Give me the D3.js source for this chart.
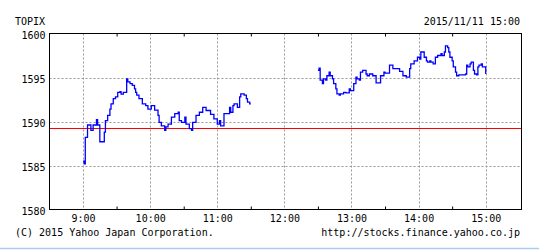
<!DOCTYPE html>
<html>
<head>
<meta charset="utf-8">
<script src="https://cdn.jsdelivr.net/npm/d3@7"></script>
<style>
  body { margin: 0; background: #fff; }
  svg text { font-family: "DejaVu Sans Mono", monospace; font-size: 10px; fill: #000; }
</style>
</head>
<body>
<svg id="chart" width="539" height="250"></svg>
<script>
// minutes after 9:00, step points
const amMinutes = [0, 1, 2, 4, 7, 9, 12, 13, 15, 19, 20, 22, 24, 25, 27, 29, 31, 33, 34, 36, 39, 40, 42, 44, 46, 47, 48, 50, 53, 56, 58, 61, 64, 67, 68, 70, 73, 74, 76, 79, 82, 85, 86, 88, 91, 92, 95, 97, 98, 101, 104, 107, 110, 114, 117, 120, 122, 123, 126, 131, 132, 134, 135, 138, 140, 141, 144, 146, 147, 149, 150]
const amValues = [1585.5, 1585.2, 1588.2, 1589.6, 1589.0, 1589.6, 1590.2, 1589.6, 1587.7, 1588.8, 1590.1, 1590.7, 1591.4, 1592.0, 1592.6, 1592.8, 1593.3, 1593.4, 1593.1, 1593.3, 1594.85, 1594.5, 1594.3, 1594.1, 1593.7, 1593.3, 1593.0, 1592.6, 1592.0, 1591.8, 1591.4, 1591.8, 1591.3, 1590.7, 1589.9, 1589.5, 1589.0, 1589.4, 1589.7, 1590.5, 1590.9, 1591.05, 1590.1, 1589.9, 1590.5, 1589.7, 1589.2, 1589.0, 1589.9, 1590.7, 1591.05, 1591.6, 1591.25, 1590.8, 1590.3, 1589.7, 1590.1, 1589.5, 1590.9, 1591.6, 1591.05, 1591.8, 1592.0, 1591.6, 1592.8, 1593.15, 1593.0, 1592.6, 1592.2, 1592.0, 1592.0]
const pmMinutes = [210, 211, 212, 214, 215, 217, 218, 220, 221, 223, 224, 226, 227, 229, 230, 233, 235, 238, 239, 242, 244, 245, 247, 248, 250, 253, 254, 256, 259, 262, 266, 269, 270, 274, 277, 283, 286, 289, 292, 293, 296, 299, 301, 302, 305, 307, 308, 310, 311, 313, 315, 317, 320, 321, 323, 324, 326, 327, 328, 330, 331, 333, 334, 336, 342, 343, 344, 346, 347, 349, 350, 352, 353, 354, 356, 357, 359, 360]
const pmValues = [1595.8, 1596.05, 1594.7, 1594.3, 1594.85, 1594.7, 1595.2, 1595.6, 1595.2, 1594.85, 1594.3, 1593.7, 1593.15, 1593.0, 1593.15, 1593.3, 1593.25, 1593.7, 1593.5, 1594.3, 1595.05, 1594.85, 1594.7, 1595.6, 1595.8, 1595.4, 1595.2, 1595.4, 1595.2, 1594.4, 1595.2, 1595.6, 1595.5, 1596.4, 1596.0, 1595.7, 1595.2, 1595.05, 1596.0, 1596.55, 1596.9, 1597.3, 1597.1, 1597.9, 1597.3, 1596.9, 1596.75, 1596.9, 1596.75, 1596.55, 1597.3, 1597.5, 1597.7, 1597.5, 1597.9, 1598.6, 1598.4, 1597.9, 1597.3, 1596.9, 1596.2, 1595.6, 1595.2, 1595.3, 1595.4, 1596.4, 1596.2, 1596.55, 1596.75, 1595.8, 1595.4, 1595.3, 1596.2, 1596.4, 1596.55, 1596.2, 1596.2, 1595.4]
const prevClose = 1589.3
const yTicks = [1580, 1585, 1590, 1595, 1600]
const gridValues = [1585, 1590, 1595]
const hourTicks = [9, 10, 11, 12, 13, 14, 15]
const halfHourTicks = [9.5, 10.5, 11.5, 12.5, 13.5, 14.5]
const title = 'TOPIX'
const stamp = '2015/11/11 15:00'
const copyright = '(C) 2015 Yahoo Japan Corporation.'
const source = 'http://stocks.finance.yahoo.co.jp'

const day = (h, m = 0) => new Date(2015, 10, 11, h, m)
const atMinute = m => day(9, m)
const atHour = h => day(Math.floor(h), Math.round((h % 1) * 60))

const plotLeft = 49.5, plotRight = 521.5, plotTop = 33.5, plotBottom = 209.5
const svg = d3.select('#chart')

const x = d3.scaleTime()
  .domain([day(8, 30), day(15, 32)])
  .range([plotLeft, plotRight])

const y = d3.scaleLinear()
  .domain([1580, 1600])
  .range([plotBottom, plotTop])

// dashed grid
svg.append('g').selectAll('line').data(hourTicks).join('line')
  .attr('x1', d => Math.round(x(atHour(d))) + 0.5).attr('x2', d => Math.round(x(atHour(d))) + 0.5)
  .attr('y1', plotTop).attr('y2', plotBottom)
  .attr('stroke', '#999').attr('stroke-dasharray', '2,2')

svg.append('g').selectAll('line').data(gridValues).join('line')
  .attr('x1', plotLeft).attr('x2', plotRight)
  .attr('y1', d => Math.round(y(d)) + 0.5).attr('y2', d => Math.round(y(d)) + 0.5)
  .attr('stroke', '#999').attr('stroke-dasharray', '2,2')

// half hour ticks, inward on top and bottom
svg.append('g').attr('transform', `translate(0,${plotBottom})`)
  .call(d3.axisBottom(x).tickValues(halfHourTicks.map(atHour)).tickSize(-3).tickFormat(''))
  .call(g => g.select('.domain').remove())
svg.append('g').attr('transform', `translate(0,${plotTop})`)
  .call(d3.axisTop(x).tickValues(halfHourTicks.map(atHour)).tickSize(-3).tickFormat(''))
  .call(g => g.select('.domain').remove())

// previous close
svg.append('line')
  .attr('x1', plotLeft).attr('x2', plotRight)
  .attr('y1', Math.round(y(prevClose)) + 0.5).attr('y2', Math.round(y(prevClose)) + 0.5)
  .attr('stroke', '#ff0000').attr('stroke-width', 1.1)

const line = d3.line()
  .x(d => x(atMinute(d[0])))
  .y(d => y(d[1]))
  .curve(d3.curveStepAfter)

const sessions = [d3.zip(amMinutes, amValues), d3.zip(pmMinutes, pmValues)]
svg.append('g').selectAll('path').data(sessions).join('path')
  .attr('d', line)
  .attr('fill', 'none')
  .attr('stroke', '#0000ff')
  .attr('stroke-width', 1.3)

// frame
svg.append('rect')
  .attr('x', plotLeft).attr('y', plotTop)
  .attr('width', plotRight - plotLeft).attr('height', plotBottom - plotTop)
  .attr('fill', 'none').attr('stroke', '#000')

// labels
svg.append('g').attr('transform', `translate(0,${plotBottom})`)
  .call(d3.axisBottom(x).tickValues(hourTicks.map(atHour)).tickSize(0).tickPadding(5).tickFormat(d3.timeFormat('%-H:%M')))
  .call(g => g.select('.domain').remove())
  .call(g => g.attr('font-family', null).attr('font-size', null))

svg.append('g').attr('transform', `translate(${plotLeft - 3},0)`)
  .call(d3.axisLeft(y).tickValues(yTicks).tickSize(0).tickPadding(1).tickFormat(d3.format('d')))
  .call(g => g.select('.domain').remove())
  .call(g => g.attr('font-family', null).attr('font-size', null))
  .call(g => g.selectAll('text').attr('dy', '0.45em'))

svg.append('text').attr('x', 15).attr('y', 25).text(title)
svg.append('text').attr('x', 520).attr('y', 25).attr('text-anchor', 'end').text(stamp)
svg.append('text').attr('x', 15).attr('y', 236).text(copyright)
svg.append('text').attr('x', 520).attr('y', 236).attr('text-anchor', 'end').text(source)

svg.append('line')
  .attr('x1', 0).attr('x2', 539).attr('y1', 248.5).attr('y2', 248.5)
  .attr('stroke', '#a8cdf0').attr('stroke-width', 1.5)
</script>
</body>
</html>
